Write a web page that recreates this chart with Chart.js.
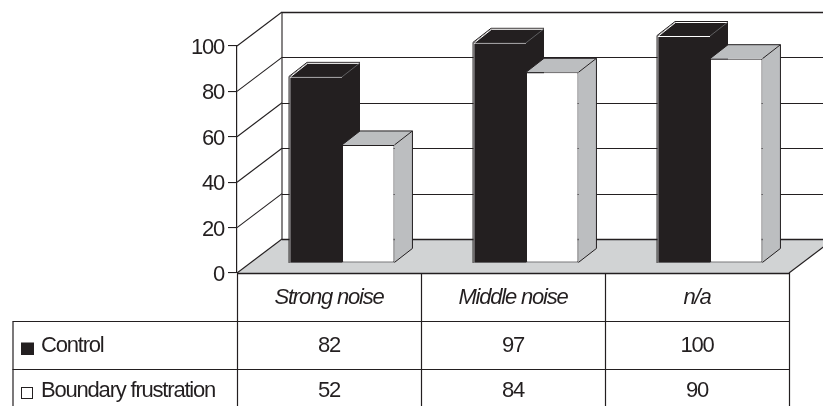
<!DOCTYPE html>
<html><head><meta charset="utf-8">
<style>html,body{margin:0;padding:0;background:#fff;overflow:hidden}canvas{display:block}</style>
<script src="https://cdn.jsdelivr.net/npm/chart.js@4"></script>
</head><body><canvas id="c" width="823" height="406"></canvas>
<script>
const categories = ['Strong noise','Middle noise','n/a'];
const seriesNames = ['Control','Boundary frustration'];
const controlValues = [82,97,100];
const boundaryValues = [52,84,90];
const tickValues = [0,20,40,60,80,100];

const INK='#231f20', FLOOR='#d1d3d4', SIDE='#bcbec0';
const FONT='"Liberation Sans",Arial,sans-serif';
const TRACK='-1.2px';
const WALL={dx:45,dy:34}, BAR={dx:13,dy:10}, DEPTH={dx:18,dy:14};
const line=(c,pts,w=1,col=INK)=>{c.beginPath();pts.forEach((p,i)=>i?c.lineTo(p[0],p[1]):c.moveTo(p[0],p[1]));c.lineWidth=w;c.strokeStyle=col;c.stroke();};
const poly=(c,pts,fill)=>{c.beginPath();pts.forEach((p,i)=>i?c.lineTo(p[0],p[1]):c.moveTo(p[0],p[1]));c.closePath();c.fillStyle=fill;c.fill();};

const scene={
  id:'scene',
  beforeLayout(chart){chart.ctx.letterSpacing=TRACK;},
  beforeDraw(chart){chart.ctx.letterSpacing=TRACK;},
  beforeDatasetsDraw(chart){
    const c=chart.ctx,a=chart.chartArea,y=chart.scales.y;
    c.save();
    poly(c,[[a.left,a.bottom],[a.right,a.bottom],[a.right+WALL.dx,a.bottom-WALL.dy],[a.left+WALL.dx,a.bottom-WALL.dy]],FLOOR);
    tickValues.forEach(v=>{
      const p=y.getPixelForValue(v),edge=(v===0||v===100);
      line(c,[[a.left,p],[a.left+WALL.dx,p-WALL.dy]],1.1);
      line(c,[[a.left+WALL.dx,Math.round(p-WALL.dy)+.5],[chart.width,Math.round(p-WALL.dy)+.5]],edge?1.6:1.2);
    });
    line(c,[[a.left+WALL.dx,a.top-WALL.dy],[a.left+WALL.dx,a.bottom-WALL.dy]],1.1);
    line(c,[[a.right,a.bottom],[a.right+WALL.dx,a.bottom-WALL.dy]],1.1);
    c.restore();
    c.save();c.translate(BAR.dx,-BAR.dy);
    const d=DEPTH;
    chart.getDatasetMeta(0).data.forEach(el=>{
      const x0=el.x-el.width/2,x1=el.x+el.width/2,t=el.y,b=el.base;
      poly(c,[[x0,t],[x0+d.dx,t-d.dy],[x1+d.dx,t-d.dy],[x1+d.dx,b-d.dy],[x1,b],[x0,b]],INK);
      line(c,[[x0-.5,b+.5],[x0-.5,t-.5],[x0+d.dx-.5,t-d.dy-.5],[x1+d.dx,t-d.dy-.5]],1);
      line(c,[[x0+1,t],[x0+d.dx,t-d.dy+.5],[x1+d.dx-1,t-d.dy+.5]],1,'#ffffff');
      line(c,[[x1,t],[x1+d.dx,t-d.dy]],.8,'#6d6e71');
    });
    chart.getDatasetMeta(1).data.forEach(el=>{
      const x0=el.x-el.width/2,x1=el.x+el.width/2,t=el.y,b=el.base;
      poly(c,[[x1,t],[x1+d.dx,t-d.dy],[x1+d.dx,b-d.dy],[x1,b]],SIDE);
      poly(c,[[x0,t],[x0+d.dx,t-d.dy],[x1+d.dx,t-d.dy],[x1,t]],SIDE);
      c.lineJoin='round';
      line(c,[[x0,t],[x0+d.dx,t-d.dy],[x1+d.dx,t-d.dy],[x1+d.dx,b-d.dy],[x1,b]],1);
      line(c,[[x1,t],[x1+d.dx,t-d.dy]],1);
    });
  },
  afterDatasetsDraw(chart){
    const c=chart.ctx;c.restore();
    const a=chart.chartArea,xs=chart.scales.x;
    c.save();
    const half=(xs.getPixelForValue(1)-xs.getPixelForValue(0))/2;
    const rows=[321.5,369.5],tableLeft=12.5;
    const verts=[a.left,...categories.map((_,i)=>xs.getPixelForValue(i)+half)];
    verts.forEach(v=>line(c,[[Math.round(v)+.5,a.bottom],[Math.round(v)+.5,chart.height]],1.2));
    line(c,[[a.left,a.bottom+.5],[a.right,a.bottom+.5]],1.4);
    rows.forEach(r=>line(c,[[tableLeft,r],[a.right,r]],1.2));
    line(c,[[tableLeft+.5,rows[0]],[tableLeft+.5,chart.height]],1.2);
    c.fillStyle=INK;c.textBaseline='middle';
    c.font='22px '+FONT;
    const rowY=[346,391],vals=[controlValues,boundaryValues];
    seriesNames.forEach((n,i)=>{
      c.textAlign='left';c.fillStyle=INK;c.fillText(n,41,rowY[i]);
      c.textAlign='center';
      vals[i].forEach((v,j)=>c.fillText(String(v),xs.getPixelForValue(j),rowY[i]));
    });
    c.fillStyle=INK;c.fillRect(21,342.5,13,12.5);
    c.fillStyle='#fff';c.strokeStyle=INK;c.lineWidth=1;c.strokeRect(21.5,387.5,11,11);
    c.restore();
  }
};

new Chart(document.getElementById('c'),{
  type:'bar',
  data:{labels:categories,datasets:[
    {label:seriesNames[0],data:controlValues,backgroundColor:INK,borderColor:'#ffffff',borderSkipped:false,borderWidth:{left:1,top:1,right:0,bottom:0}},
    {label:seriesNames[1],data:boundaryValues,backgroundColor:'#ffffff',borderColor:INK,borderSkipped:false,borderWidth:1}
  ]},
  options:{
    responsive:false,animation:false,
    layout:{padding:{left:0,top:46,right:34,bottom:0}},
    datasets:{bar:{categoryPercentage:0.57,barPercentage:1,clip:false}},
    plugins:{legend:{display:false},tooltip:{enabled:false},title:{display:false}},
    scales:{
      x:{
        afterFit(s){s.height=133;},
        grid:{display:false},border:{display:false},
        ticks:{font:{family:FONT,size:22,style:'italic'},color:INK,padding:4,maxRotation:0}
      },
      y:{
        min:0,max:100,
        afterFit(s){s.width=237;},
        afterBuildTicks(s){s.ticks=tickValues.map(v=>({value:v}));},
        grid:{drawOnChartArea:false,drawTicks:true,tickLength:9,color:INK,lineWidth:1.1},
        border:{display:true,color:INK,width:1.2},
        ticks:{font:{family:FONT,size:22},color:INK,padding:4,labelOffset:2}
      }
    }
  },
  plugins:[scene]
});
</script></body></html>
